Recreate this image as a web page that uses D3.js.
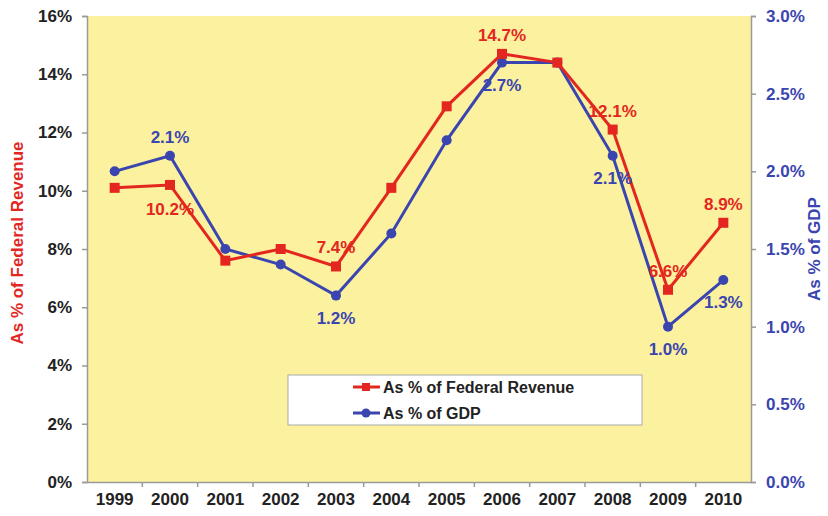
<!DOCTYPE html>
<meta charset="utf-8">
<style>
body { margin: 0; background: #fff; }
text { font-family: "Liberation Sans", Arial, sans-serif; font-weight: bold; }
.revline { fill: none; stroke: #e3261f; stroke-width: 3px; }
.gdpline { fill: none; stroke: #3a45b0; stroke-width: 3px; }
</style>
<body>
<script src="https://d3js.org/d3.v7.min.js"></script>
<script>

// data
var years = ["1999","2000","2001","2002","2003","2004","2005","2006","2007","2008","2009","2010"];
var pctRevenue = [10.1, 10.2, 7.6, 8.0, 7.4, 10.1, 12.9, 14.7, 14.4, 12.1, 6.6, 8.9];
var pctGdp = [2.0, 2.1, 1.5, 1.4, 1.2, 1.6, 2.2, 2.7, 2.7, 2.1, 1.0, 1.3];
var leftTicks = [0, 2, 4, 6, 8, 10, 12, 14, 16];
var rightTicks = [0, 0.5, 1.0, 1.5, 2.0, 2.5, 3.0];
// which points get a value label, and on which side
var revLabels = [{i: 1, pos: "below"}, {i: 4, pos: "above"}, {i: 7, pos: "above"},
                 {i: 9, pos: "above"}, {i: 10, pos: "above"}, {i: 11, pos: "above"}];
var gdpLabels = [{i: 1, pos: "above"}, {i: 4, pos: "below"}, {i: 7, pos: "below"},
                 {i: 9, pos: "below"}, {i: 10, pos: "below"}, {i: 11, pos: "below"}];

var red = "#e3261f", blue = "#3a45b0";

var margin = {top: 16, right: 77, bottom: 34, left: 87},
    width = 828 - margin.left - margin.right,
    height = 516 - margin.top - margin.bottom;

var x = d3.scaleBand().domain(years).range([0, width]);
var yL = d3.scaleLinear().domain([0, 16]).range([height, 0]);
var yR = d3.scaleLinear().domain([0, 3]).range([height, 0]);
var cx = function(i) { return x(years[i]) + x.bandwidth() / 2; };

var svg = d3.select("body").append("svg")
    .attr("width", 828)
    .attr("height", 516)
  .append("g")
    .attr("transform", "translate(" + margin.left + "," + margin.top + ")");

// plot background
svg.append("rect")
    .attr("width", width).attr("height", height)
    .attr("fill", "#fcf19e");

// left axis
var gl = svg.append("g")
    .call(d3.axisLeft(yL).tickValues(leftTicks).tickFormat(function(d) { return d + "%"; }).tickSize(5).tickPadding(10));
gl.selectAll("text").attr("fill", "#222").style("font-size", "17px");

// right axis
var gr = svg.append("g")
    .attr("transform", "translate(" + width + ",0)")
    .call(d3.axisRight(yR).tickValues(rightTicks).tickFormat(d3.format(".1f")).tickSize(5).tickPadding(10));
gr.selectAll("text").text(function(d) { return d3.format(".1f")(d) + "%"; })
    .attr("fill", blue).style("font-size", "17px");

// bottom axis
var gb = svg.append("g")
    .attr("transform", "translate(0," + height + ")")
    .call(d3.axisBottom(x).tickSize(0).tickPadding(11));
gb.selectAll("text").attr("fill", "#222").style("font-size", "17px");
// category boundary ticks
gb.selectAll(".sep").data(years.slice(1))
  .enter().append("line")
    .attr("x1", function(d) { return x(d); }).attr("x2", function(d) { return x(d); })
    .attr("y1", 0).attr("y2", 5);

[gl, gr, gb].forEach(function(g) {
  g.selectAll("path, line").attr("stroke", "#9a9a9a").attr("stroke-width", 1.5);
});

// axis titles
svg.append("text")
    .attr("transform", "translate(" + (-70) + "," + (height / 2 - 6) + ") rotate(-90)")
    .attr("text-anchor", "middle").attr("dy", "0.35em")
    .attr("fill", red).style("font-size", "17px")
    .text("As % of Federal Revenue");
svg.append("text")
    .attr("transform", "translate(" + (width + 63) + "," + (height / 2) + ") rotate(-90)")
    .attr("text-anchor", "middle").attr("dy", "0.35em")
    .attr("fill", blue).style("font-size", "17px")
    .text("As % of GDP");

// lines
var revLine = d3.line().x(function(d, i) { return cx(i); }).y(function(d) { return yL(d); });
var gdpLine = d3.line().x(function(d, i) { return cx(i); }).y(function(d) { return yR(d); });

svg.append("path").datum(pctGdp).attr("class", "gdpline").attr("d", gdpLine);
svg.append("path").datum(pctRevenue).attr("class", "revline").attr("d", revLine);

svg.selectAll(".gdpdot").data(pctGdp)
  .enter().append("circle")
    .attr("cx", function(d, i) { return cx(i); })
    .attr("cy", function(d) { return yR(d); })
    .attr("r", 5).attr("fill", blue);

svg.selectAll(".revdot").data(pctRevenue)
  .enter().append("rect")
    .attr("x", function(d, i) { return cx(i) - 5; })
    .attr("y", function(d) { return yL(d) - 5; })
    .attr("width", 10).attr("height", 10).attr("fill", red);

// value labels
svg.selectAll(".revlab").data(revLabels)
  .enter().append("text")
    .attr("x", function(d) { return cx(d.i); })
    .attr("y", function(d) { return yL(pctRevenue[d.i]) + (d.pos == "above" ? -13 : 30); })
    .attr("text-anchor", "middle")
    .attr("fill", red).style("font-size", "17px")
    .text(function(d) { return pctRevenue[d.i].toFixed(1) + "%"; });

svg.selectAll(".gdplab").data(gdpLabels)
  .enter().append("text")
    .attr("x", function(d) { return cx(d.i); })
    .attr("y", function(d) { return yR(pctGdp[d.i]) + (d.pos == "above" ? -13 : 28); })
    .attr("text-anchor", "middle")
    .attr("fill", blue).style("font-size", "17px")
    .text(function(d) { return pctGdp[d.i].toFixed(1) + "%"; });

// legend
var leg = svg.append("g").attr("transform", "translate(" + (288 - margin.left) + "," + (375 - margin.top) + ")");
leg.append("rect").attr("width", 354).attr("height", 50)
    .attr("fill", "#fff").attr("stroke", "#aaa").attr("stroke-width", 1);
var items = [{name: "As % of Federal Revenue", color: red, shape: "square"},
             {name: "As % of GDP", color: blue, shape: "circle"}];
items.forEach(function(it, k) {
  var yy = 12 + k * 26;
  leg.append("line").attr("x1", 65).attr("x2", 92).attr("y1", yy).attr("y2", yy)
      .attr("stroke", it.color).attr("stroke-width", 3);
  if (it.shape == "square")
    leg.append("rect").attr("x", 74).attr("y", yy - 4).attr("width", 8).attr("height", 8).attr("fill", it.color);
  else
    leg.append("circle").attr("cx", 78).attr("cy", yy).attr("r", 4.5).attr("fill", it.color);
  leg.append("text").attr("x", 95).attr("y", yy + 5.5)
      .attr("fill", "#222").style("font-size", "16px").text(it.name);
});

</script>
</body>
